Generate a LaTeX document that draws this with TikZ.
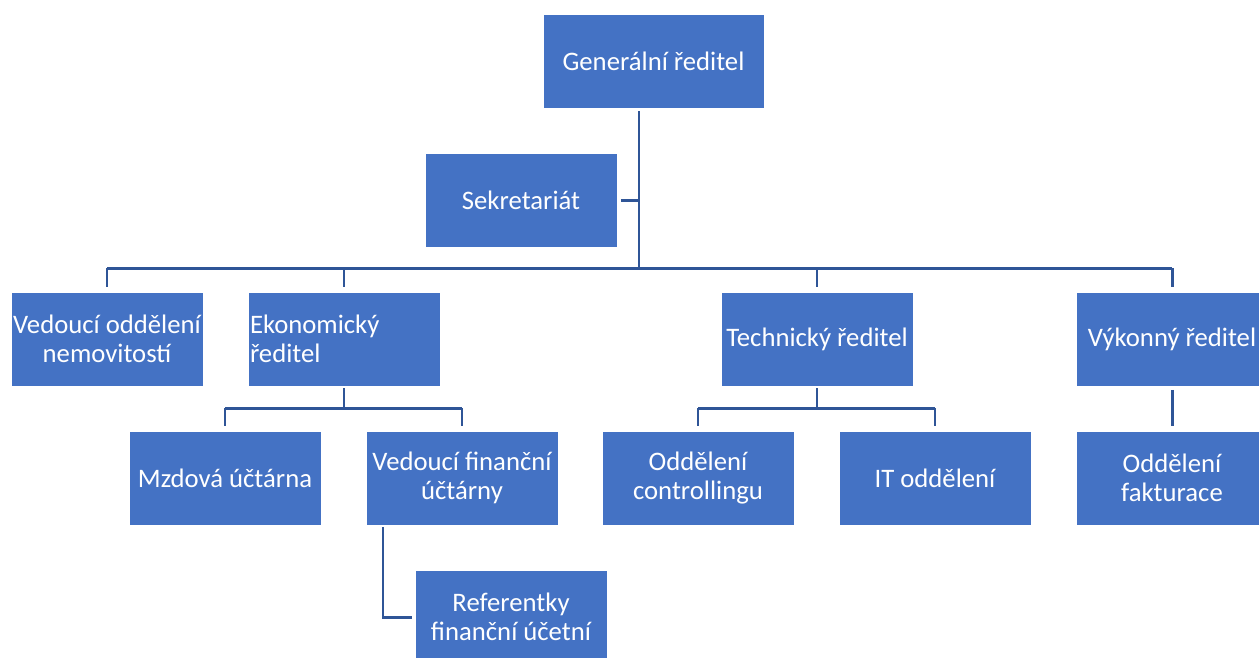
\documentclass[tikz,border=0pt]{standalone}
\usepackage{fontspec}
\setmainfont{Carlito}
\usetikzlibrary{positioning}
\definecolor{boxblue}{HTML}{4472C4}
\definecolor{linkblue}{HTML}{2F5597}

\begin{document}
\begin{tikzpicture} [
            x=0.02cm, y=-0.02cm,
            unit/.style = {rectangle,fill=boxblue,draw=white,thin,text=white,
                    minimum width=3.84cm,minimum height=1.88cm,inner xsep=0.3pt,inner ysep=2pt,
                    align=center,font=\fontsize{15.2}{16.5}\selectfont},
            link/.style = {draw,linkblue,line width=1.7pt,shorten >=2.5pt},
            bus/.style = {draw,linkblue,line width=1.7pt},
        ]
        \useasboundingbox (0,0) rectangle (1259,657);
        % First we place the boxes
        \foreach \pos/\name/\label in {
                % top
                {(521,200)/sek/Sekretariát},
                % second row
                {(107,339)/nem/Vedoucí oddělení\\nemovitostí},
                {(817,339)/tech/Technický ředitel},
                {(1172,339)/vyk/Výkonný ředitel},
                % third row
                {(225,478)/mzd/Mzdová účtárna},
                {(462,478)/vfu/Vedoucí finanční\\účtárny},
                {(698,478)/con/Oddělení\\controllingu},
                {(935,478)/it/IT oddělení},
                {(1172,478)/fak/Oddělení\\fakturace},
                % bottom
                {(511,617)/ref/Referentky\\finanční účetní}}
            \node[unit] (\name) at \pos {\label};
        \node[unit,minimum width=4.42cm] (gen) at (653.5,61) {Generální ředitel};
        \node[unit,align=left,inner xsep=1pt,text width=3.76cm] (eko) at (344,339) {Ekonomický\\ředitel};
        % Bus points
        \coordinate (trunk) at (639,268);
        \coordinate (ekobus) at (344,408);
        \coordinate (techbus) at (817,408);
        \coordinate (refbend) at (383,617);
        % Connect the boxes
        \path[link,shorten <=1.7pt,shorten >=0pt] (gen.south -| trunk) -- (trunk);
        \path[link,shorten <=2pt,shorten >=0pt] (sek.east) -- (sek.east -| trunk);
        \path[bus] (nem.north |- trunk) -- (vyk.north |- trunk);
        \foreach \dest in {nem,eko,tech,vyk}
            \path[link] (\dest.north |- trunk) -- (\dest);
        \path[link,shorten <=1pt,shorten >=0pt] (eko.south) -- (ekobus);
        \path[bus] (mzd.north |- ekobus) -- (vfu.north |- ekobus);
        \foreach \dest in {mzd,vfu}
            \path[link] (\dest.north |- ekobus) -- (\dest);
        \path[link,shorten <=1pt,shorten >=0pt] (tech.south) -- (techbus);
        \path[bus] (con.north |- techbus) -- (it.north |- techbus);
        \foreach \dest in {con,it}
            \path[link] (\dest.north |- techbus) -- (\dest);
        \path[link,shorten <=2pt] (vyk) -- (fak);
        \path[link,shorten <=1pt,shorten >=1.5pt] (vfu.south -| refbend) -- (refbend) -- (ref.west);
    \end{tikzpicture}
\end{document}
